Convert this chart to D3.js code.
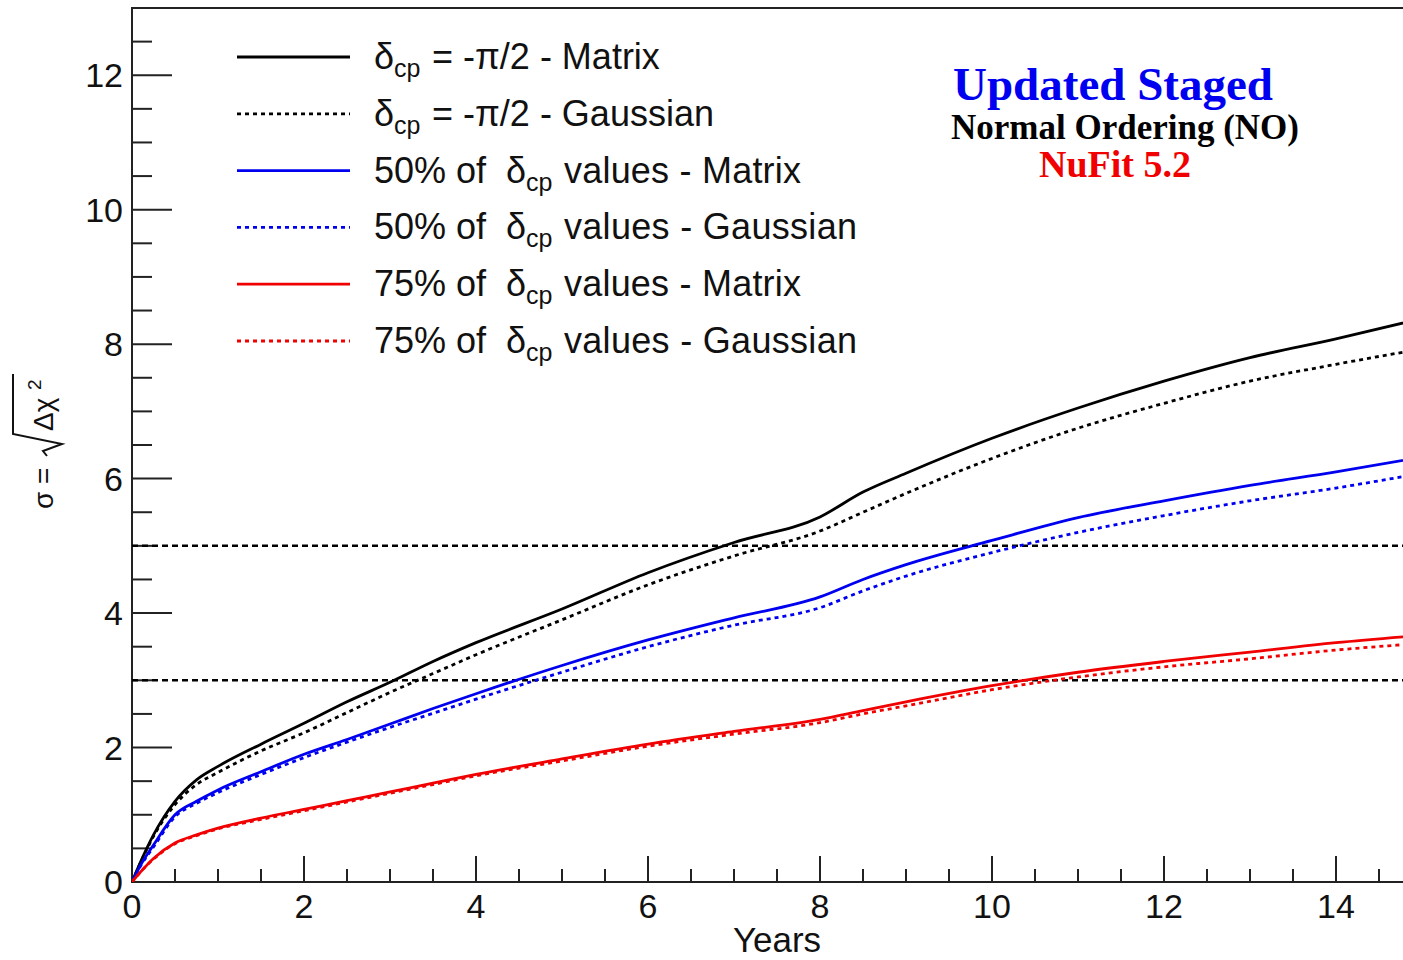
<!DOCTYPE html>
<html>
<head>
<meta charset="utf-8">
<script src="https://cdn.jsdelivr.net/npm/d3@7"></script>
<style>
  html, body { margin: 0; padding: 0; background: #fff; overflow: hidden; }
  svg { display: block; }
</style>
</head>
<body>
<svg id="chart" width="1403" height="960"></svg>
<script>
// Exposure time in years
const years = [0, 0.1, 0.25, 0.5, 0.75, 1, 1.5, 2, 2.5, 3, 3.5, 4, 5, 6, 7, 8, 8.5, 9, 10, 11, 12, 13, 14, 15];

// Sensitivity sigma = sqrt(delta chi^2)
const deltaMaxMatrix   = [0, 0.30, 0.70, 1.20, 1.52, 1.72, 2.05, 2.36, 2.68, 2.97, 3.28, 3.56, 4.06, 4.60, 5.05, 5.43, 5.80, 6.08, 6.60, 7.05, 7.45, 7.80, 8.08, 8.38];
const deltaMaxGauss    = [0, 0.29, 0.68, 1.15, 1.45, 1.63, 1.95, 2.22, 2.52, 2.82, 3.10, 3.38, 3.90, 4.42, 4.85, 5.22, 5.50, 5.78, 6.30, 6.75, 7.12, 7.45, 7.70, 7.93];
const frac50Matrix     = [0, 0.25, 0.55, 1.00, 1.20, 1.37, 1.64, 1.90, 2.12, 2.35, 2.58, 2.80, 3.22, 3.60, 3.93, 4.24, 4.50, 4.72, 5.08, 5.42, 5.67, 5.90, 6.10, 6.32];
const frac50Gauss      = [0, 0.24, 0.52, 0.97, 1.17, 1.33, 1.60, 1.85, 2.08, 2.30, 2.51, 2.72, 3.12, 3.50, 3.82, 4.08, 4.33, 4.55, 4.90, 5.20, 5.45, 5.67, 5.86, 6.08];
const frac75Matrix     = [0, 0.15, 0.35, 0.58, 0.70, 0.80, 0.95, 1.08, 1.21, 1.34, 1.47, 1.60, 1.83, 2.05, 2.24, 2.42, 2.55, 2.68, 2.92, 3.12, 3.28, 3.42, 3.56, 3.67];
const frac75Gauss      = [0, 0.15, 0.34, 0.57, 0.69, 0.79, 0.93, 1.06, 1.19, 1.32, 1.45, 1.58, 1.80, 2.02, 2.20, 2.37, 2.50, 2.62, 2.86, 3.05, 3.20, 3.32, 3.45, 3.55];

// Significance reference levels
const sigmaLevels = [3, 5];

// Axis tick labels
const xTickLabels = [0, 2, 4, 6, 8, 10, 12, 14];
const yTickLabels = [0, 2, 4, 6, 8, 10, 12];

// Legend text pieces: prefix before delta_cp, suffix after it
const legendPrefix = ["", "", "50% of", "50% of", "75% of", "75% of"];
const legendSuffix = ["= -π/2 - Matrix", "= -π/2 - Gaussian", "values - Matrix", "values - Gaussian", "values - Matrix", "values - Gaussian"];

const seriesColors = ["#000000", "#000000", "#0000f0", "#0000f0", "#f00000", "#f00000"];
const seriesDashed = [false, true, false, true, false, true];
const seriesValues = [deltaMaxMatrix, deltaMaxGauss, frac50Matrix, frac50Gauss, frac75Matrix, frac75Gauss];

const series = seriesValues.map((vals, i) => ({
  values: years.map((t, j) => ({ t, v: vals[j] })),
  color: seriesColors[i],
  dashed: seriesDashed[i],
  prefix: legendPrefix[i],
  suffix: legendSuffix[i]
}));

const svg = d3.select("#chart");
const sans = "'Liberation Sans', Arial, Helvetica, sans-serif";
const serif = "'Liberation Serif', 'Times New Roman', serif";

const padLeft = 132, padTop = 8, padBottom = 882, padRight = 1422;
const x = d3.scaleLinear().domain([0, 15]).range([padLeft, padRight]);
const y = d3.scaleLinear().domain([0, 13]).range([padBottom, padTop]);

svg.append("defs").append("clipPath").attr("id", "plotClip")
  .append("rect").attr("x", padLeft).attr("y", padTop)
  .attr("width", padRight - padLeft).attr("height", padBottom - padTop);

// Frame
svg.append("rect")
  .attr("x", padLeft).attr("y", padTop)
  .attr("width", padRight - padLeft).attr("height", padBottom - padTop)
  .attr("fill", "none").attr("stroke", "#222").attr("stroke-width", 2);

// Tick marks drawn inside the frame
const xMinor = d3.range(0, 15.001, 0.5);
svg.append("g").selectAll("line").data(xMinor).join("line")
  .attr("x1", d => x(d)).attr("x2", d => x(d))
  .attr("y1", padBottom)
  .attr("y2", d => padBottom - (Math.abs(d % 2) < 1e-9 ? 26 : 13))
  .attr("stroke", "#222").attr("stroke-width", 2);

const yMinor = d3.range(0, 13.001, 0.5);
svg.append("g").selectAll("line").data(yMinor).join("line")
  .attr("y1", d => y(d)).attr("y2", d => y(d))
  .attr("x1", padLeft)
  .attr("x2", d => padLeft + (Math.abs(d % 2) < 1e-9 ? 40 : 20))
  .attr("stroke", "#222").attr("stroke-width", 2);

// Tick labels
svg.append("g").selectAll("text").data(xTickLabels).join("text")
  .attr("x", d => x(d)).attr("y", 918)
  .attr("text-anchor", "middle")
  .attr("font-family", sans).attr("font-size", 34).attr("fill", "#111")
  .text(d => d);

svg.append("g").selectAll("text").data(yTickLabels).join("text")
  .attr("x", 123).attr("y", d => y(d) + 12)
  .attr("text-anchor", "end")
  .attr("font-family", sans).attr("font-size", 34).attr("fill", "#111")
  .text(d => d);

// Axis titles
svg.append("text")
  .attr("x", (padLeft + padRight) / 2).attr("y", 952)
  .attr("text-anchor", "middle")
  .attr("font-family", sans).attr("font-size", 35).attr("fill", "#111")
  .text("Years");

const yTitle = svg.append("g").attr("transform", "translate(53,0) rotate(-90)");
const yt = yTitle.append("text").attr("font-family", sans).attr("font-size", 28).attr("fill", "#111");
yt.append("tspan").attr("x", -509).attr("y", 0).text("σ =");
yt.append("tspan").attr("x", -431).attr("y", 0).text("Δχ");
yt.append("tspan").attr("x", -390).attr("y", -12).attr("font-size", 19).text("2");
yTitle.append("path")
  .attr("d", "M-456,-6 L-451,-10 L-444,9 L-434,-40 L-374,-40")
  .attr("fill", "none").attr("stroke", "#111").attr("stroke-width", 2);

// Reference sigma lines
const plot = svg.append("g").attr("clip-path", "url(#plotClip)");
plot.selectAll("line.level").data(sigmaLevels).join("line")
  .attr("class", "level")
  .attr("x1", padLeft).attr("x2", padRight)
  .attr("y1", d => y(d)).attr("y2", d => y(d))
  .attr("stroke", "#000").attr("stroke-width", 2.5)
  .attr("stroke-dasharray", "6,4");

// Curves
const line = d3.line().x(d => x(d.t)).y(d => y(d.v)).curve(d3.curveMonotoneX);
plot.selectAll("path.curve").data(series).join("path")
  .attr("class", "curve")
  .attr("d", d => line(d.values))
  .attr("fill", "none")
  .attr("stroke", d => d.color)
  .attr("stroke-width", 2.8)
  .attr("stroke-dasharray", d => d.dashed ? "4,4" : null);

// Legend
const legendRowY = i => 57 + i * 56.8;
const legend = svg.append("g");
series.forEach((s, i) => {
  const cy = legendRowY(i);
  legend.append("line")
    .attr("x1", 237).attr("x2", 350).attr("y1", cy).attr("y2", cy)
    .attr("stroke", s.color).attr("stroke-width", 2.8)
    .attr("stroke-dasharray", s.dashed ? "4,4" : null);
  const t = legend.append("text")
    .attr("font-family", sans).attr("font-size", 36).attr("fill", "#111");
  const base = cy + 12;
  const deltaX = s.prefix ? 506 : 374;
  const suffixX = s.prefix ? 564 : 432;
  if (s.prefix) t.append("tspan").attr("x", 374).attr("y", base).text(s.prefix);
  t.append("tspan").attr("x", deltaX).attr("y", base).text("δ");
  t.append("tspan").attr("x", deltaX + 20).attr("y", base + 8).attr("font-size", 25).text("cp");
  t.append("tspan").attr("x", suffixX).attr("y", base)
    .attr("textLength", s.prefix ? (s.suffix.endsWith("Gaussian") ? 293 : 237) : null)
    .text(s.suffix);
});

// Annotation block
svg.append("text")
  .attr("x", 1113).attr("y", 100).attr("text-anchor", "middle")
  .attr("font-family", serif).attr("font-weight", "bold").attr("font-size", 47)
  .attr("fill", "#0000f0").text("Updated Staged");
svg.append("text")
  .attr("x", 1125).attr("y", 139).attr("text-anchor", "middle")
  .attr("font-family", serif).attr("font-weight", "bold").attr("font-size", 35)
  .attr("fill", "#000").text("Normal Ordering (NO)");
svg.append("text")
  .attr("x", 1115).attr("y", 177).attr("text-anchor", "middle")
  .attr("font-family", serif).attr("font-weight", "bold").attr("font-size", 38)
  .attr("fill", "#f00000").text("NuFit 5.2");
</script>
</body>
</html>
